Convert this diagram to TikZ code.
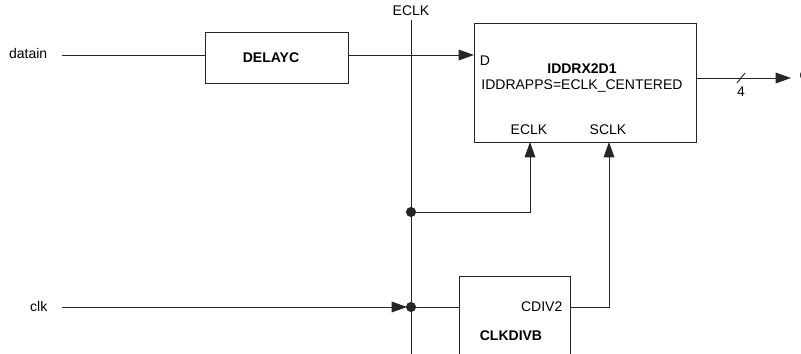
\documentclass[tikz,border=0pt]{standalone}
\usepackage{fontspec}
\setmainfont{Liberation Sans}
\usetikzlibrary{arrows.meta}
\tikzset{
  blockbox/.style={draw=black!85,line width=0.75pt,inner sep=0pt},
  wire/.style={draw=black!85,line width=0.75pt},
  sig/.style={wire,-{Triangle[length=11.5pt,width=8pt]}},
  partname/.style={font=\fontsize{10.5}{12}\bfseries\selectfont}
}

\begin{document}
\begin{tikzpicture}[x=0.75pt,y=-0.75pt,font=\fontsize{10.5}{12}\selectfont]
  \useasboundingbox (0,0) rectangle (801,354);
  % blocks
  \node[blockbox,minimum width=107.25pt,minimum height=38.25pt] (delay) at (276.5,57.5) {};
  \node[blockbox,minimum width=166.5pt,minimum height=89.25pt] (iddr) at (585,82.5) {};
  \node[blockbox,minimum width=83.25pt,minimum height=75pt] (clkdiv) at (514.5,326) {};
  \node[partname] (delayname) at (271,58) {DELAYC};
  \node[partname] (iddrname) at (582,69) {IDDRX2D1};
  \node (iddrattr) at (582,86) {IDDRAPPS=ECLK\_CENTERED};
  \node[partname] (clkdivname) at (511,336) {CLKDIVB};
  % pins
  \node (pind) at (485,61) {D};
  \node (pineclk) at (529,130) {ECLK};
  \node (pinsclk) at (608,130) {SCLK};
  \node[anchor=east] (pincdiv) at (567,307) {CDIV2};
  % ports
  \node[anchor=east] (datain) at (52,53) {datain};
  \node[anchor=east] (clk) at (52,306) {clk};
  \node (eclk) at (411,11) {ECLK};
  \node[anchor=west] (qout) at (795,77) {Q};
  \coordinate (dinstart) at (62,55);
  \coordinate (clkstart) at (62,307);
  \coordinate (etop) at (411,20);
  \coordinate (ebot) at (411,354);
  \coordinate (qend) at (791,78);
  \coordinate (dpin) at (474,55);
  \coordinate (epin) at (530,142);
  \coordinate (spin) at (609,142);
  \coordinate (jeclk) at (411,212);
  \coordinate (jclk) at (411,307);
  % wires
  \draw[wire] (etop) -- (ebot);
  \draw[wire] (dinstart) -- (delay.west |- dinstart);
  \draw[sig] (delay.east |- dpin) -- (dpin);
  \draw[sig] (iddr.east |- qend) -- (qend);
  \draw[wire] (737,83) -- (745,73);
  \node (buswidth) at (741,92) {4};
  \draw[sig] (jeclk) -| (epin);
  \draw[sig,shorten >=3pt] (clkstart) -- (jclk);
  \draw[wire] (jclk) -- (clkdiv.west |- jclk);
  \draw[sig] (clkdiv.east |- jclk) -| (spin);
  \foreach \junction in {jeclk,jclk}
    \fill[black!85] (\junction) circle (3.8pt);
\end{tikzpicture}
\end{document}
